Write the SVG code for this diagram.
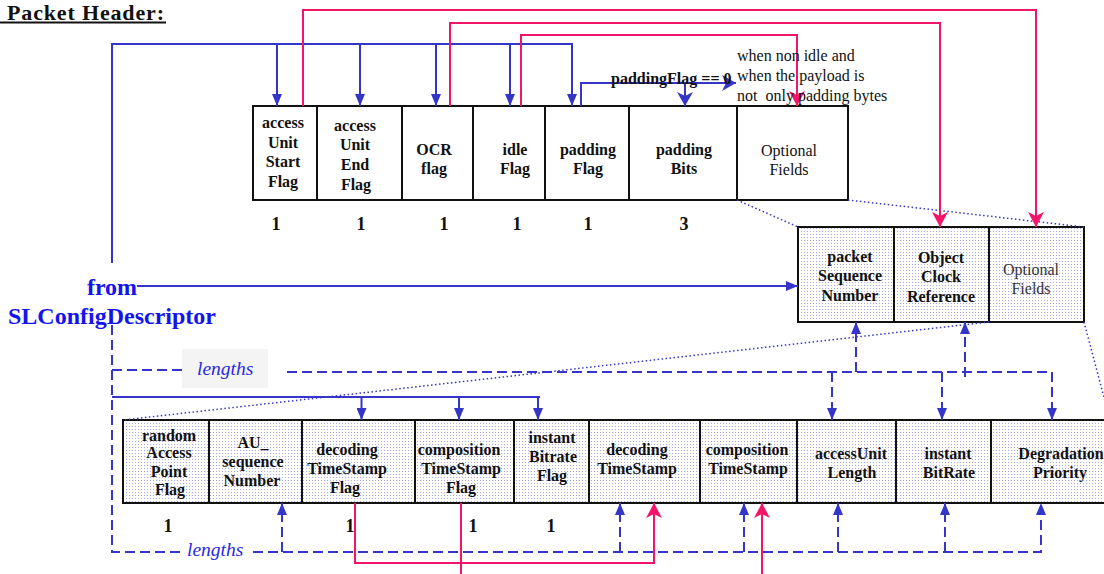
<svg xmlns="http://www.w3.org/2000/svg" width="1104" height="574" viewBox="0 0 1104 574">
<defs>
<style>
.box{fill:#fff;stroke:#111;stroke-width:2}
.dbox{fill:url(#dots);stroke:#111;stroke-width:2}
.lb{font-family:"Liberation Serif","Times New Roman",serif;font-weight:bold;font-size:16px;fill:#111;text-anchor:middle}
.lr{font-family:"Liberation Serif","Times New Roman",serif;font-size:16px;fill:#111;text-anchor:middle}
.num{font-family:"Liberation Serif","Times New Roman",serif;font-weight:bold;font-size:18px;fill:#111;text-anchor:middle}
.note{font-family:"Liberation Serif","Times New Roman",serif;font-size:16px;fill:#111;white-space:pre}
.blue{fill:none;stroke:#3535c9;stroke-width:2}
.dash{fill:none;stroke:#3535c9;stroke-width:2;stroke-dasharray:10 5}
.dot{fill:none;stroke:#3535c9;stroke-width:1.5;stroke-dasharray:1.5 2.5}
.pink{fill:none;stroke:#f3156a;stroke-width:2}
.from{font-family:"Liberation Serif","Times New Roman",serif;font-weight:bold;font-size:24px;fill:#1414f0;text-anchor:middle}
.len{font-family:"Liberation Serif","Times New Roman",serif;font-style:italic;font-size:19.5px;fill:#2a2ae0}
</style>
<pattern id="dots" width="3" height="3" patternUnits="userSpaceOnUse"><rect width="3" height="3" fill="#fff"/><rect width="1" height="1" fill="#a8a8e8"/></pattern>
<marker id="tri" markerUnits="userSpaceOnUse" markerWidth="12" markerHeight="10" refX="12" refY="5" orient="auto"><path d="M0,0 L12,5 L0,10 z" fill="#3535c9"/></marker>
<marker id="notch" markerUnits="userSpaceOnUse" markerWidth="14" markerHeight="16" refX="14" refY="8" orient="auto"><path d="M0,0 L14,8 L0,16 L4,8 z" fill="#3535c9"/></marker>
<marker id="pk" markerUnits="userSpaceOnUse" markerWidth="15" markerHeight="16" refX="15" refY="8" orient="auto"><path d="M0,0 L15,8 L0,16 L4,8 z" fill="#f3156a"/></marker>
</defs>
<rect width="1104" height="574" fill="#fff"/>

<g id="title">
<text x="7" y="20" textLength="157" lengthAdjust="spacing" style="font-family:'Liberation Serif','Times New Roman',serif;font-weight:bold;font-size:22px;fill:#111">Packet Header:</text>
<line x1="0" y1="22.5" x2="166" y2="22.5" stroke="#111" stroke-width="2"/>
</g>

<g id="top-row">
<g id="accessUnitStartFlag"><rect class="box" x="253" y="106" width="64" height="94"/><text class="lb"><tspan x="283" y="128">access</tspan><tspan x="283" y="148">Unit</tspan><tspan x="283" y="167">Start</tspan><tspan x="283" y="187">Flag</tspan></text></g>
<g id="accessUnitEndFlag"><rect class="box" x="317" y="106" width="85" height="94"/><text class="lb"><tspan x="355" y="131">access</tspan><tspan x="355" y="150">Unit</tspan><tspan x="355" y="170">End</tspan><tspan x="356" y="190">Flag</tspan></text></g>
<g id="OCRflag"><rect class="box" x="402" y="106" width="71" height="94"/><text class="lb"><tspan x="434" y="155">OCR</tspan><tspan x="434" y="174">flag</tspan></text></g>
<g id="idleFlag"><rect class="box" x="473" y="106" width="72" height="94"/><text class="lb"><tspan x="515" y="155">idle</tspan><tspan x="515" y="174">Flag</tspan></text></g>
<g id="paddingFlag"><rect class="box" x="545" y="106" width="84" height="94"/><text class="lb"><tspan x="588" y="155">padding</tspan><tspan x="588" y="174">Flag</tspan></text></g>
<g id="paddingBits"><rect class="box" x="629" y="106" width="108" height="94"/><text class="lb"><tspan x="684" y="155">padding</tspan><tspan x="684" y="174">Bits</tspan></text></g>
<g id="optionalFields1"><rect class="box" x="737" y="106" width="111" height="94"/><text class="lr"><tspan x="789" y="156">Optional</tspan><tspan x="789" y="175">Fields</tspan></text></g>
<g id="top-sizes"><text class="num" x="276" y="230">1</text><text class="num" x="361" y="230">1</text><text class="num" x="444" y="230">1</text><text class="num" x="517" y="230">1</text><text class="num" x="588" y="230">1</text><text class="num" x="684" y="230">3</text></g>
</g>

<g id="mid-row">
<g id="packetSequenceNumber"><rect class="dbox" x="798" y="227" width="96" height="95"/><text class="lb"><tspan x="850" y="262">packet</tspan><tspan x="850" y="281">Sequence</tspan><tspan x="850" y="301">Number</tspan></text></g>
<g id="objectClockReference"><rect class="dbox" x="894" y="227" width="95" height="95"/><text class="lb"><tspan x="941" y="263">Object</tspan><tspan x="941" y="282">Clock</tspan><tspan x="941" y="302">Reference</tspan></text></g>
<g id="optionalFields2"><rect class="dbox" x="989" y="227" width="95" height="95"/><text class="lr" style="fill:#333"><tspan x="1031" y="275">Optional</tspan><tspan x="1031" y="294">Fields</tspan></text></g>
</g>

<g id="bottom-row">
<g id="randomAccessPointFlag"><rect class="dbox" x="123" y="420" width="86" height="83"/><text class="lb"><tspan x="169" y="441">random</tspan><tspan x="169" y="458">Access</tspan><tspan x="169" y="477">Point</tspan><tspan x="170" y="495">Flag</tspan></text></g>
<g id="AU_sequenceNumber"><rect class="dbox" x="209" y="420" width="93" height="83"/><text class="lb"><tspan x="253" y="448">AU_</tspan><tspan x="253" y="467">sequence</tspan><tspan x="252" y="486">Number</tspan></text></g>
<g id="decodingTimeStampFlag"><rect class="dbox" x="302" y="420" width="113" height="83"/><text class="lb"><tspan x="347" y="455">decoding</tspan><tspan x="347" y="474">TimeStamp</tspan><tspan x="345" y="493">Flag</tspan></text></g>
<g id="compositionTimeStampFlag"><rect class="dbox" x="415" y="420" width="99" height="83"/><text class="lb"><tspan x="459" y="455">composition</tspan><tspan x="461" y="474">TimeStamp</tspan><tspan x="461" y="493">Flag</tspan></text></g>
<g id="instantBitrateFlag"><rect class="dbox" x="514" y="420" width="75" height="83"/><text class="lb"><tspan x="552" y="443">instant</tspan><tspan x="553" y="462">Bitrate</tspan><tspan x="552" y="481">Flag</tspan></text></g>
<g id="decodingTimeStamp"><rect class="dbox" x="589" y="420" width="111" height="83"/><text class="lb"><tspan x="637" y="455">decoding</tspan><tspan x="637" y="474">TimeStamp</tspan></text></g>
<g id="compositionTimeStamp"><rect class="dbox" x="700" y="420" width="97" height="83"/><text class="lb"><tspan x="747" y="455">composition</tspan><tspan x="748" y="474">TimeStamp</tspan></text></g>
<g id="accessUnitLength"><rect class="dbox" x="797" y="420" width="99" height="83"/><text class="lb"><tspan x="851" y="459">accessUnit</tspan><tspan x="852" y="478">Length</tspan></text></g>
<g id="instantBitRate"><rect class="dbox" x="896" y="420" width="95" height="83"/><text class="lb"><tspan x="948" y="459">instant</tspan><tspan x="949" y="478">BitRate</tspan></text></g>
<g id="degradationPriority"><rect class="dbox" x="991" y="420" width="121" height="83"/><text class="lb"><tspan x="1061" y="459">Degradation</tspan><tspan x="1060" y="478">Priority</tspan></text></g>
<g id="bottom-sizes"><text class="num" x="168" y="532">1</text><text class="num" x="350" y="532">1</text><text class="num" x="473" y="532">1</text><text class="num" x="551" y="532">1</text></g>
</g>

<g id="connectors">
<path class="dot" d="M737,200 L798,227"/>
<path class="dot" d="M848,200 L1084,227"/>
<path class="dot" d="M989,322 L123,420"/>
<path class="dot" d="M1084,322 L1110,420"/>

<path class="blue" d="M112,263 V44 H572 V106" marker-end="url(#tri)"/>
<path class="blue" d="M277,44 V106" marker-end="url(#tri)"/>
<path class="blue" d="M360,44 V106" marker-end="url(#tri)"/>
<path class="blue" d="M436,44 V106" marker-end="url(#tri)"/>
<path class="blue" d="M510,44 V106" marker-end="url(#tri)"/>
<path class="blue" d="M581,106 V83 H736" marker-end="url(#notch)"/>
<path class="blue" d="M685,83 V106" marker-end="url(#notch)"/>
<path class="blue" d="M137,286 H798" marker-end="url(#tri)"/>
<path class="blue" d="M112,397 H540"/>
<path class="blue" d="M361.5,397 V420" marker-end="url(#tri)"/>
<path class="blue" d="M459,397 V420" marker-end="url(#tri)"/>
<path class="blue" d="M538,397 V420" marker-end="url(#tri)"/>

<path class="dash" d="M112,325 V552 H183"/>
<path class="dash" d="M112,370 H182"/>
<path class="dash" d="M287,372 H1052 V420" marker-end="url(#tri)"/>
<path class="dash" d="M832,372 V420" marker-end="url(#tri)"/>
<path class="dash" d="M942,372 V420" marker-end="url(#tri)"/>
<path class="dash" d="M856,372 V322" marker-end="url(#tri)"/>
<path class="dash" d="M965,377 V322" marker-end="url(#tri)"/>
<path class="dash" d="M253,552 H1041 V503" marker-end="url(#tri)"/>
<path class="dash" d="M282,552 V503" marker-end="url(#tri)"/>
<path class="dash" d="M620,552 V503" marker-end="url(#tri)"/>
<path class="dash" d="M744,552 V503" marker-end="url(#tri)"/>
<path class="dash" d="M838,552 V503" marker-end="url(#tri)"/>
<path class="dash" d="M945,552 V503" marker-end="url(#tri)"/>

<path class="pink" d="M303,106 V10 H1036 V227" marker-end="url(#pk)"/>
<path class="pink" d="M450,106 V23 H940 V227" marker-end="url(#pk)"/>
<path class="pink" d="M521,106 V35 H797 V106" marker-end="url(#pk)"/>
<path class="pink" d="M355,503 V563 H654 V503" marker-end="url(#pk)"/>
<path class="pink" d="M461,503 V580"/>
<path class="pink" d="M762,580 V503" marker-end="url(#pk)"/>
</g>

<g id="labels">
<text class="lb" x="611" y="84" style="text-anchor:start">paddingFlag == 0</text>
<text class="note"><tspan x="737" y="61">when non idle and</tspan><tspan x="737" y="81">when the payload is</tspan><tspan x="737" y="101">not  only padding bytes</tspan></text>
<text class="from"><tspan x="112" y="295">from</tspan><tspan x="112" y="324">SLConfigDescriptor</tspan></text>
<rect x="182" y="349" width="86" height="39" fill="#f4f4f4"/>
<text class="len" x="197" y="375">lengths</text>
<text class="len" x="187" y="556">lengths</text>
</g>
</svg>
